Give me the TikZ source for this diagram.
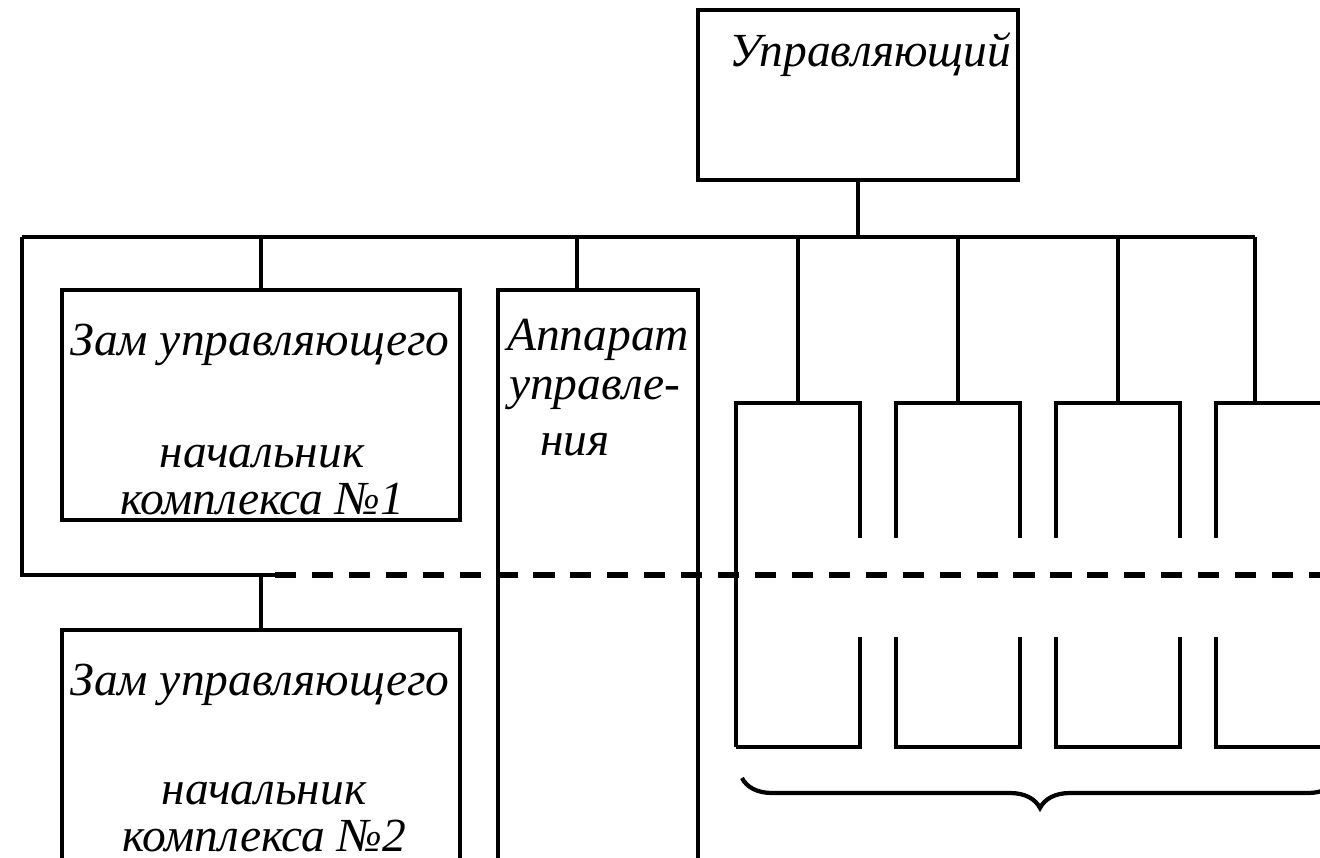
\documentclass[tikz,border=0pt]{standalone}
\usepackage{fontspec}
\setmainfont{Liberation Serif}
\usetikzlibrary{decorations.pathreplacing}

\begin{document}
\begin{tikzpicture}[x=0.01cm, y=-0.01cm, line width=1.2pt,
    box/.style={draw, rectangle, inner sep=0pt},
    slot/.style={rectangle, inner sep=0pt, minimum width=1.2cm, minimum height=3.4cm},
    lbl/.style={inner sep=0pt, align=center, font=\fontsize{13.5}{13.6}\selectfont\itshape}]
 \useasboundingbox (0,0) rectangle (1320,858);
 % boxes
 \node at (858,95) (boss) [box, minimum width=3.2cm, minimum height=1.7cm] {};
 \node at (261,405) (zam1) [box, minimum width=3.98cm, minimum height=2.3cm] {};
 \node at (598,595) (app) [box, minimum width=2cm, minimum height=6.1cm] {};
 \node at (261,765) (zam2) [box, minimum width=3.98cm, minimum height=2.7cm] {};
 % labels
 \node at (870,55) (tboss) [lbl] {Управляющий};
 \node at (260,345) (tzam1a) [lbl] {Зам управляющего};
 \node at (262,480) (tzam1b) [lbl] {начальник\\комплекса №1};
 \node at (505,340) (tappa) [lbl, anchor=west] {Аппарат};
 \node at (507,393) (tappb) [lbl, anchor=west] {управле-};
 \node at (575,445) (tappc) [lbl] {ния};
 \node at (260,685) (tzam2a) [lbl] {Зам управляющего};
 \node at (264,817) (tzam2b) [lbl] {начальник\\комплекса №2};
 % bus
 \coordinate (busL) at (22,237);
 \coordinate (busR) at (1255,237);
 \coordinate (cornerL) at (22,575);
 \coordinate (dashS) at (275,575);
 \coordinate (dashE) at (1320,575);
 \draw (busL) -- (busR);
 \draw (boss.south) -- (boss.south |- busL);
 \draw (zam1.north) -- (zam1.north |- busL);
 \draw ([xshift=-0.21cm]app.north) -- ([xshift=-0.21cm]app.north |- busL);
 % left frame and dashed line
 \draw (busL) -- (cornerL) -- (dashS);
 \draw [dashed, line width=1.8pt, dash pattern=on 6pt off 4.5pt] (dashS) -- (dashE);
 \draw (zam2.north) -- (zam2.north |- cornerL);
 % right slots
 \node at (798,575) (r1) [slot] {};
 \node at (958,575) (r2) [slot] {};
 \node at (1118,575) (r3) [slot] {};
 \node at (1278,575) (r4) [slot] {};
 \draw (r1.north) -- (r1.north |- busL);
 \draw (r2.north) -- (r2.north |- busL);
 \draw (r3.north) -- (r3.north |- busL);
 \draw (busR) -- (busR |- r4.north);
 % upper parts
 \draw (r1.south west) -- (r1.north west) -- (r1.north east) -- ++(0,-1.35cm);
 \draw ([yshift=-1.35cm]r2.north west) -- (r2.north west) -- (r2.north east) -- ++(0,-1.35cm);
 \draw ([yshift=-1.35cm]r3.north west) -- (r3.north west) -- (r3.north east) -- ++(0,-1.35cm);
 \draw ([yshift=-1.35cm]r4.north west) -- (r4.north west) -- (r4.north east) -- ++(0,-1.35cm);
 % lower parts
 \draw (r1.south west) -- (r1.south east) -- ++(0,1.1cm);
 \draw ([yshift=1.1cm]r2.south west) -- (r2.south west) -- (r2.south east) -- ++(0,1.1cm);
 \draw ([yshift=1.1cm]r3.south west) -- (r3.south west) -- (r3.south east) -- ++(0,1.1cm);
 \draw ([yshift=1.1cm]r4.south west) -- (r4.south west) -- (r4.south east) -- ++(0,1.1cm);
 % brace
 \coordinate (braceL) at (742,778);
 \coordinate (braceR) at (1338,778);
 \draw [decorate, decoration={brace, mirror, amplitude=0.3cm}] (braceL) -- (braceR);
\end{tikzpicture}
\end{document}
